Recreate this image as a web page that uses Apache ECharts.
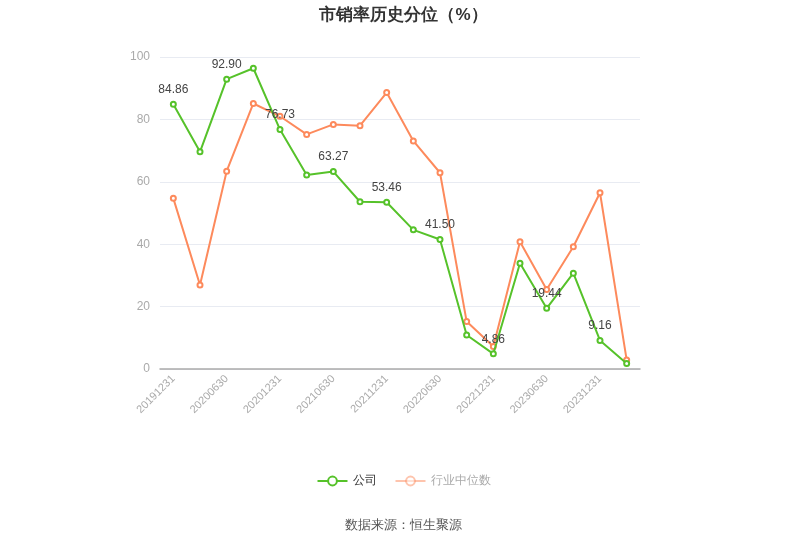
<!DOCTYPE html>
<html>
<head>
<meta charset="utf-8">
<script src="https://cdn.jsdelivr.net/npm/echarts@6/dist/echarts.min.js"></script>
<style>
  html, body { margin: 0; padding: 0; background: #fff; }
  #chart { width: 807px; height: 546px; }
</style>
</head>
<body>
<div id="chart"></div>
<script>
// 报告期
var dates = ['20191231', '20200331', '20200630', '20200930', '20201231', '20210331',
    '20210630', '20210930', '20211231', '20220331', '20220630', '20220930',
    '20221231', '20230331', '20230630', '20230930', '20231231', '20240331'];
// 公司市销率历史分位
var companyVals = [84.86, 69.6, 92.90, 96.4, 76.73, 62.2, 63.27, 53.6, 53.46, 44.6,
    41.50, 10.9, 4.86, 33.9, 19.44, 30.7, 9.16, 1.8];
// 行业中位数
var industryVals = [54.7, 26.9, 63.4, 85.1, 81.0, 75.2, 78.4, 78.0, 88.6, 73.1,
    62.9, 15.2, 7.2, 40.8, 25.5, 39.2, 56.5, 2.9];
var yTicks = [0, 20, 40, 60, 80, 100];

var chart = echarts.init(document.getElementById('chart'));

var option = {
    animation: false,
    title: {
        text: '市销率历史分位（%）',
        left: 'center',
        top: 2,
        textStyle: { fontSize: 17, fontWeight: 'bold', color: '#333' }
    },
    grid: { left: 160, right: 167, top: 57, bottom: 177 },
    legend: {
        bottom: 54,
        left: 'center',
        itemWidth: 30,
        itemHeight: 11,
        itemGap: 18,
        data: [
            { name: '公司', textStyle: { color: '#333' } },
            { name: '行业中位数', textStyle: { color: '#aaa' }, itemStyle: { opacity: 0.5 }, lineStyle: { opacity: 0.5 } }
        ],
        textStyle: { fontSize: 12 }
    },
    graphic: [{
        type: 'text',
        left: 'center',
        top: 519,
        style: { text: '数据来源：恒生聚源', fill: '#555', fontSize: 13 }
    }],
    xAxis: {
        type: 'category',
        data: dates,
        boundaryGap: true,
        axisLine: { lineStyle: { color: '#aaa', width: 1.5 } },
        axisTick: { alignWithLabel: true, interval: 1, lineStyle: { color: '#888' } },
        axisLabel: { interval: 1, rotate: 45, color: '#aaa', fontSize: 11, margin: 8 }
    },
    yAxis: {
        type: 'value',
        min: yTicks[0],
        max: yTicks[yTicks.length - 1],
        interval: 20,
        axisLine: { show: false },
        axisTick: { show: false },
        axisLabel: { color: '#aaa', fontSize: 12, margin: 10 },
        splitLine: { lineStyle: { color: '#e8ebf2' } }
    },
    series: [{
        name: '公司',
        type: 'line',
        data: companyVals,
        symbol: 'emptyCircle',
        symbolSize: 5,
        color: '#56c22a',
        lineStyle: { width: 2 },
        label: {
            show: true,
            position: 'top',
            color: '#444',
            fontSize: 12,
            formatter: function (p) {
                return p.dataIndex % 2 === 0 ? p.value.toFixed(2) : '';
            }
        },
        z: 3
    }, {
        name: '行业中位数',
        type: 'line',
        data: industryVals,
        symbol: 'emptyCircle',
        symbolSize: 5,
        color: '#fd8a5c',
        lineStyle: { width: 2 },
        z: 2
    }]
};

chart.setOption(option);
</script>
</body>
</html>
